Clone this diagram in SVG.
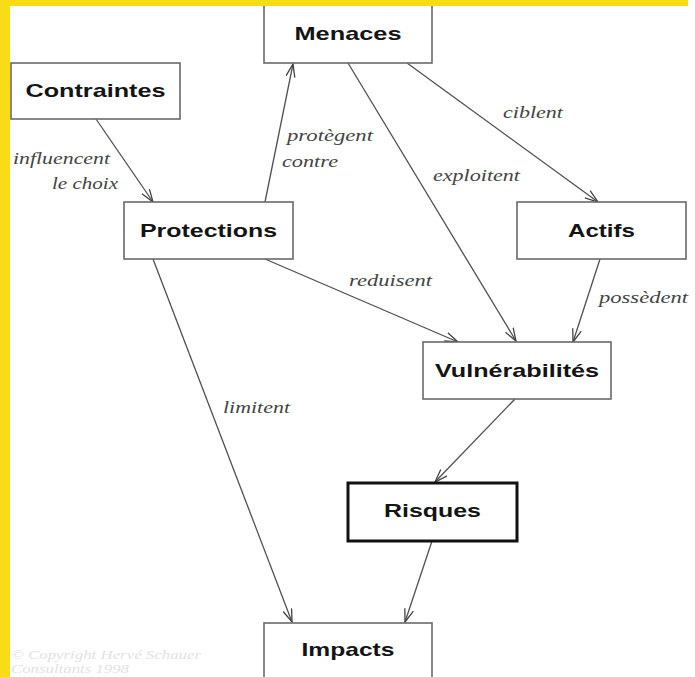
<svg xmlns="http://www.w3.org/2000/svg" width="695" height="677" viewBox="0 0 695 677">
<style>
.box{fill:#fff;stroke:#6a6a6a;stroke-width:1.6}
.thick{fill:#fff;stroke:#111;stroke-width:3}
.nt{font-family:"Liberation Sans",Arial,sans-serif;font-weight:bold;font-size:19px;fill:#141414;text-anchor:middle}
.lbl{font-family:"Liberation Serif","Times New Roman",serif;font-style:italic;font-size:16px;fill:#444}
.edge{stroke:#505050;stroke-width:1.3;fill:none;marker-end:url(#arr)}
.copy{font-family:"Liberation Serif","Times New Roman",serif;font-style:italic;font-size:12px;fill:#e2e2e2}
</style>
<defs>
<marker id="arr" markerUnits="userSpaceOnUse" markerWidth="16" markerHeight="12" refX="13" refY="5" orient="auto">
<path d="M0,0.5 L13,5 L0,9.5" fill="none" stroke="#444" stroke-width="1.3"/>
</marker>
</defs>
<rect x="0" y="0" width="695" height="677" fill="#fff"/>
<g id="connectors">
<line class="edge" x1="96" y1="119" x2="153" y2="202"/>
<line class="edge" x1="265" y1="202" x2="293" y2="64"/>
<line class="edge" x1="407" y1="63" x2="598" y2="202"/>
<line class="edge" x1="348" y1="63" x2="516" y2="341"/>
<line class="edge" x1="265" y1="259" x2="458" y2="342"/>
<line class="edge" x1="600" y1="259" x2="573" y2="342"/>
<line class="edge" x1="153" y1="259" x2="292" y2="622"/>
<line class="edge" x1="515" y1="399" x2="435" y2="482"/>
<line class="edge" x1="432" y1="541" x2="405" y2="622"/>
</g>
<g id="labels">
<text class="lbl" x="13" y="164" textLength="97" lengthAdjust="spacingAndGlyphs">influencent</text>
<text class="lbl" x="52" y="189" textLength="66" lengthAdjust="spacingAndGlyphs">le choix</text>
<text class="lbl" x="287" y="141" textLength="86" lengthAdjust="spacingAndGlyphs">protègent</text>
<text class="lbl" x="282" y="167" textLength="56" lengthAdjust="spacingAndGlyphs">contre</text>
<text class="lbl" x="503" y="118" textLength="60" lengthAdjust="spacingAndGlyphs">ciblent</text>
<text class="lbl" x="433" y="181" textLength="87" lengthAdjust="spacingAndGlyphs">exploitent</text>
<text class="lbl" x="349" y="286" textLength="83" lengthAdjust="spacingAndGlyphs">reduisent</text>
<text class="lbl" x="599" y="303" textLength="89" lengthAdjust="spacingAndGlyphs">possèdent</text>
<text class="lbl" x="223" y="413" textLength="67" lengthAdjust="spacingAndGlyphs">limitent</text>
</g>
<g id="menaces"><rect class="box" x="264" y="2" width="168" height="61"/><text class="nt" x="348" y="40" textLength="107" lengthAdjust="spacingAndGlyphs">Menaces</text></g>
<g id="contraintes"><rect class="box" x="11" y="63" width="169" height="56"/><text class="nt" x="95.5" y="97" textLength="140" lengthAdjust="spacingAndGlyphs">Contraintes</text></g>
<g id="protections"><rect class="box" x="124" y="202" width="169" height="57"/><text class="nt" x="208.5" y="237" textLength="137" lengthAdjust="spacingAndGlyphs">Protections</text></g>
<g id="actifs"><rect class="box" x="517" y="202" width="169" height="57"/><text class="nt" x="601.5" y="237" textLength="67" lengthAdjust="spacingAndGlyphs">Actifs</text></g>
<g id="vulnerabilites"><rect class="box" x="423" y="342" width="188" height="57"/><text class="nt" x="517" y="377" textLength="164" lengthAdjust="spacingAndGlyphs">Vulnérabilités</text></g>
<g id="risques"><rect class="thick" x="348" y="483" width="169" height="58"/><text class="nt" x="432.5" y="517" textLength="97" lengthAdjust="spacingAndGlyphs">Risques</text></g>
<g id="impacts"><rect class="box" x="264" y="623" width="168" height="60"/><text class="nt" x="348" y="656" textLength="93" lengthAdjust="spacingAndGlyphs">Impacts</text></g>
<g id="copyright">
<text class="copy" x="11" y="659" textLength="190" lengthAdjust="spacingAndGlyphs">© Copyright Hervé Schauer</text>
<text class="copy" x="11" y="673" textLength="118" lengthAdjust="spacingAndGlyphs">Consultants 1998</text>
</g>
<g id="frame">
<rect x="0" y="0" width="688" height="6" fill="#f8dc17"/>
<rect x="0" y="0" width="10" height="677" fill="#f8dc17"/>
</g>
</svg>
